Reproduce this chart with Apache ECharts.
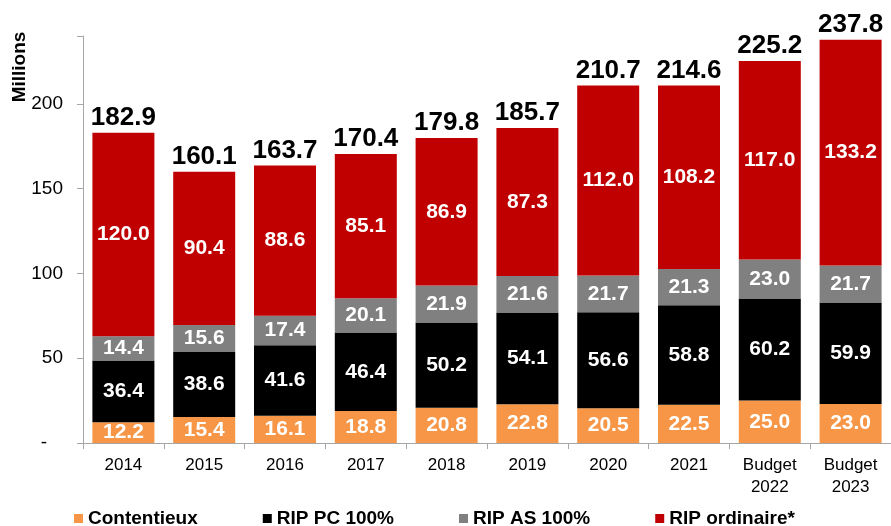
<!DOCTYPE html>
<html lang="fr">
<head>
  <meta charset="UTF-8">
  <title>RIP</title>
  <script src="https://cdn.jsdelivr.net/npm/echarts@6/dist/echarts.min.js"></script>
  <style>
    html, body { margin: 0; padding: 0; background: #fff; }
    #chart { width: 891px; height: 526px; }
  </style>
</head>
<body>
  <div id="chart"></div>
  <script>
    var years = ['2014', '2015', '2016', '2017', '2018', '2019', '2020', '2021', 'Budget\n2022', 'Budget\n2023'];
    var contentieux = [12.2, 15.4, 16.1, 18.8, 20.8, 22.8, 20.5, 22.5, 25.0, 23.0];
    var ripPC = [36.4, 38.6, 41.6, 46.4, 50.2, 54.1, 56.6, 58.8, 60.2, 59.9];
    var ripAS = [14.4, 15.6, 17.4, 20.1, 21.9, 21.6, 21.7, 21.3, 23.0, 21.7];
    var ripOrdinaire = [120.0, 90.4, 88.6, 85.1, 86.9, 87.3, 112.0, 108.2, 117.0, 133.2];
    var totals = [182.9, 160.1, 163.7, 170.4, 179.8, 185.7, 210.7, 214.6, 225.2, 237.8];

    var font = '"Liberation Sans", Arial, sans-serif';

    // top of each stack, so the total sits right on the bar
    var stackTop = years.map(function (y, i) {
      return contentieux[i] + ripPC[i] + ripAS[i] + ripOrdinaire[i];
    });

    function seg(name, data, color) {
      return {
        name: name,
        type: 'bar',
        stack: 'rip',
        data: data,
        barWidth: 62,
        itemStyle: { color: color },
        label: {
          show: true,
          position: 'inside',
          color: '#fff',
          fontFamily: font,
          fontWeight: 'bold',
          fontSize: 21,
          formatter: function (p) { return p.value.toFixed(1); }
        }
      };
    }

    var chart = echarts.init(document.getElementById('chart'));
    chart.setOption({
      animation: false,
      grid: { left: 83, right: -3, top: 36, bottom: 83, containLabel: false },
      legend: {
        left: 69,
        top: 504,
        itemGap: 65,
        itemWidth: 9,
        itemHeight: 9,
        icon: 'rect',
        textStyle: { fontFamily: font, fontWeight: 'bold', fontSize: 19, color: '#000' },
        data: ['Contentieux', 'RIP PC 100%', 'RIP AS 100%', 'RIP ordinaire*']
      },
      graphic: [{
        type: 'text',
        x: 20,
        y: 67,
        rotation: Math.PI / 2,
        style: {
          text: 'Millions',
          fontFamily: font,
          fontWeight: 'bold',
          fontSize: 19,
          fill: '#000',
          align: 'center',
          verticalAlign: 'middle'
        }
      }],
      xAxis: {
        type: 'category',
        data: years,
        axisLine: { lineStyle: { color: '#a6a6a6' } },
        axisTick: { show: true, length: 6, lineStyle: { color: '#a6a6a6' } },
        axisLabel: { fontFamily: font, fontSize: 17, color: '#000', margin: 11, lineHeight: 22 }
      },
      yAxis: {
        type: 'value',
        min: 0,
        max: 240,
        interval: 50,
        splitLine: { show: false },
        axisLine: { show: true, lineStyle: { color: '#a6a6a6' } },
        axisTick: { show: true, length: 6, lineStyle: { color: '#a6a6a6' } },
        axisLabel: {
          fontFamily: font,
          fontSize: 19,
          color: '#000',
          margin: 20,
          formatter: function (v) {
            if (v === 0) return '-   ';
            return v % 50 === 0 ? v : '';
          }
        }
      },
      series: [
        seg('Contentieux', contentieux, '#f79646'),
        seg('RIP PC 100%', ripPC, '#000000'),
        seg('RIP AS 100%', ripAS, '#808080'),
        seg('RIP ordinaire*', ripOrdinaire, '#c00000'),
        {
          name: 'Total',
          type: 'scatter',
          data: stackTop,
          symbolSize: 0,
          silent: true,
          itemStyle: { opacity: 1 },
          label: {
            show: true,
            position: 'top',
            distance: 2,
            color: '#000',
            fontFamily: font,
            fontWeight: 'bold',
            fontSize: 26,
            formatter: function (p) { return totals[p.dataIndex].toFixed(1); }
          }
        }
      ]
    });
  </script>
</body>
</html>
